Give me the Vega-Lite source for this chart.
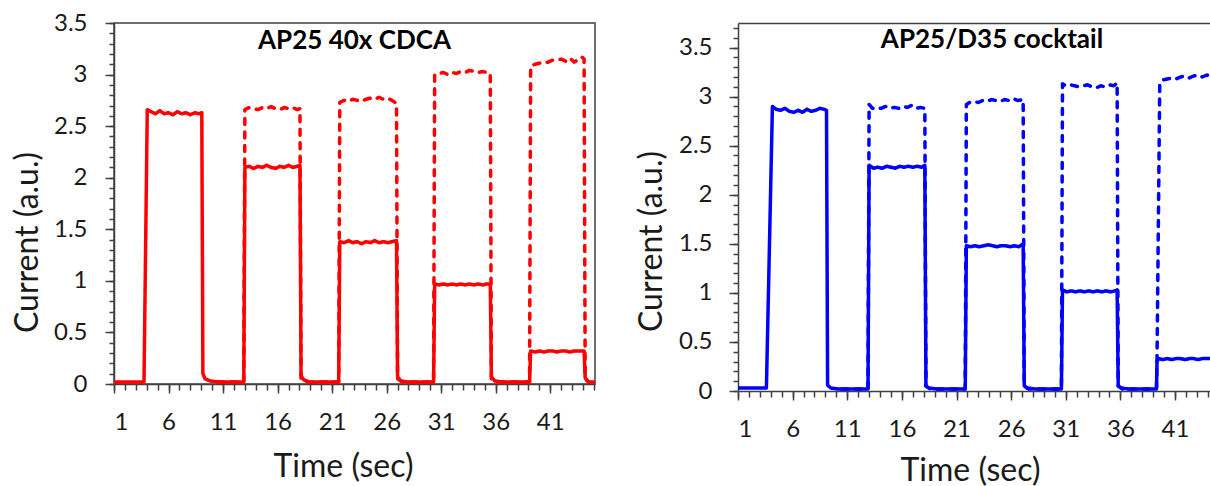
{
  "$schema": "https://vega.github.io/schema/vega-lite/v6.json",
  "padding": {"left": 10, "top": 10, "right": 0, "bottom": 5},
  "background": "white",
  "spacing": 35,
  "config": {
    "font": "Lato",
    "axis": {"grid": false, "domainColor": "#404040", "tickColor": "#404040", "domainWidth": 1.5, "tickWidth": 1.5,
      "labelColor": "#1a1a1a", "titleColor": "#1a1a1a", "labelFontSize": 24, "titleFontSize": 32,
      "titleFontWeight": "normal", "labelFont": "Lato", "titleFont": "Lato"}
  },
  "datasets": {
    "left": [
      {"s":"solid","t":1,"v":0.02},{"s":"solid","t":3.75,"v":0.02},{"s":"solid","t":4.05,"v":2.66},{"s":"solid","t":4.4,"v":2.64},{"s":"solid","t":4.8,"v":2.62},{"s":"solid","t":5.2,"v":2.65},{"s":"solid","t":5.6,"v":2.62},{"s":"solid","t":6.0,"v":2.63},{"s":"solid","t":6.4,"v":2.61},{"s":"solid","t":6.8,"v":2.64},{"s":"solid","t":7.2,"v":2.62},{"s":"solid","t":7.6,"v":2.63},{"s":"solid","t":8.0,"v":2.61},{"s":"solid","t":8.4,"v":2.63},{"s":"solid","t":8.8,"v":2.62},{"s":"solid","t":9.05,"v":2.63},{"s":"solid","t":9.15,"v":0.1},{"s":"solid","t":9.35,"v":0.05},{"s":"solid","t":9.8,"v":0.03},{"s":"solid","t":10.5,"v":0.02},{"s":"solid","t":12.9,"v":0.02},
      {"s":"solid","t":13.0,"v":2.1},{"s":"solid","t":13.4,"v":2.11},{"s":"solid","t":13.8,"v":2.09},{"s":"solid","t":14.2,"v":2.11},{"s":"solid","t":14.6,"v":2.1},{"s":"solid","t":15.0,"v":2.12},{"s":"solid","t":15.4,"v":2.1},{"s":"solid","t":15.8,"v":2.09},{"s":"solid","t":16.2,"v":2.11},{"s":"solid","t":16.6,"v":2.1},{"s":"solid","t":17.0,"v":2.12},{"s":"solid","t":17.4,"v":2.1},{"s":"solid","t":17.8,"v":2.11},{"s":"solid","t":18.05,"v":2.12},{"s":"solid","t":18.15,"v":0.08},{"s":"solid","t":18.4,"v":0.04},{"s":"solid","t":18.9,"v":0.02},{"s":"solid","t":21.6,"v":0.02},
      {"s":"solid","t":21.7,"v":1.38},{"s":"solid","t":22.1,"v":1.37},{"s":"solid","t":22.5,"v":1.39},{"s":"solid","t":22.9,"v":1.37},{"s":"solid","t":23.3,"v":1.38},{"s":"solid","t":23.7,"v":1.36},{"s":"solid","t":24.1,"v":1.38},{"s":"solid","t":24.5,"v":1.37},{"s":"solid","t":24.9,"v":1.39},{"s":"solid","t":25.3,"v":1.37},{"s":"solid","t":25.7,"v":1.38},{"s":"solid","t":26.1,"v":1.37},{"s":"solid","t":26.5,"v":1.38},{"s":"solid","t":26.9,"v":1.39},{"s":"solid","t":27.0,"v":0.07},{"s":"solid","t":27.3,"v":0.03},{"s":"solid","t":27.9,"v":0.02},{"s":"solid","t":30.3,"v":0.02},
      {"s":"solid","t":30.4,"v":0.97},{"s":"solid","t":30.8,"v":0.96},{"s":"solid","t":31.2,"v":0.97},{"s":"solid","t":31.6,"v":0.96},{"s":"solid","t":32.0,"v":0.97},{"s":"solid","t":32.4,"v":0.96},{"s":"solid","t":32.8,"v":0.97},{"s":"solid","t":33.2,"v":0.96},{"s":"solid","t":33.6,"v":0.97},{"s":"solid","t":34.0,"v":0.96},{"s":"solid","t":34.4,"v":0.97},{"s":"solid","t":34.8,"v":0.96},{"s":"solid","t":35.2,"v":0.97},{"s":"solid","t":35.5,"v":0.97},{"s":"solid","t":35.6,"v":0.07},{"s":"solid","t":35.9,"v":0.03},{"s":"solid","t":36.5,"v":0.02},{"s":"solid","t":39.1,"v":0.02},
      {"s":"solid","t":39.2,"v":0.32},{"s":"solid","t":39.6,"v":0.31},{"s":"solid","t":40.0,"v":0.32},{"s":"solid","t":40.4,"v":0.31},{"s":"solid","t":40.8,"v":0.32},{"s":"solid","t":41.2,"v":0.32},{"s":"solid","t":41.6,"v":0.31},{"s":"solid","t":42.0,"v":0.32},{"s":"solid","t":42.4,"v":0.32},{"s":"solid","t":42.8,"v":0.31},{"s":"solid","t":43.2,"v":0.32},{"s":"solid","t":43.6,"v":0.32},{"s":"solid","t":44.1,"v":0.32},{"s":"solid","t":44.2,"v":0.06},{"s":"solid","t":44.5,"v":0.02},{"s":"solid","t":45.2,"v":0.02},
      {"s":"dashed","t":10.5,"v":0.02},{"s":"dashed","t":12.9,"v":0.02},{"s":"dashed","t":13.0,"v":2.66},{"s":"dashed","t":13.4,"v":2.68},{"s":"dashed","t":13.8,"v":2.67},{"s":"dashed","t":14.2,"v":2.66},{"s":"dashed","t":14.6,"v":2.68},{"s":"dashed","t":15.0,"v":2.67},{"s":"dashed","t":15.4,"v":2.69},{"s":"dashed","t":15.8,"v":2.67},{"s":"dashed","t":16.2,"v":2.66},{"s":"dashed","t":16.6,"v":2.68},{"s":"dashed","t":17.0,"v":2.67},{"s":"dashed","t":17.4,"v":2.68},{"s":"dashed","t":17.8,"v":2.66},{"s":"dashed","t":18.05,"v":2.67},{"s":"dashed","t":18.15,"v":0.05},{"s":"dashed","t":18.5,"v":0.02},{"s":"dashed","t":21.6,"v":0.02},
      {"s":"dashed","t":21.7,"v":2.73},{"s":"dashed","t":22.1,"v":2.75},{"s":"dashed","t":22.5,"v":2.74},{"s":"dashed","t":22.9,"v":2.76},{"s":"dashed","t":23.3,"v":2.75},{"s":"dashed","t":23.7,"v":2.74},{"s":"dashed","t":24.1,"v":2.76},{"s":"dashed","t":24.5,"v":2.77},{"s":"dashed","t":24.9,"v":2.76},{"s":"dashed","t":25.3,"v":2.78},{"s":"dashed","t":25.7,"v":2.76},{"s":"dashed","t":26.1,"v":2.77},{"s":"dashed","t":26.5,"v":2.75},{"s":"dashed","t":26.9,"v":2.72},{"s":"dashed","t":27.0,"v":0.05},{"s":"dashed","t":27.4,"v":0.02},{"s":"dashed","t":30.3,"v":0.02},
      {"s":"dashed","t":30.4,"v":3.0},{"s":"dashed","t":30.8,"v":3.01},{"s":"dashed","t":31.2,"v":3.02},{"s":"dashed","t":31.6,"v":3.0},{"s":"dashed","t":32.0,"v":3.02},{"s":"dashed","t":32.4,"v":3.01},{"s":"dashed","t":32.8,"v":3.03},{"s":"dashed","t":33.2,"v":3.02},{"s":"dashed","t":33.6,"v":3.04},{"s":"dashed","t":34.0,"v":3.03},{"s":"dashed","t":34.4,"v":3.02},{"s":"dashed","t":34.8,"v":3.03},{"s":"dashed","t":35.2,"v":3.02},{"s":"dashed","t":35.5,"v":3.01},{"s":"dashed","t":35.6,"v":0.05},{"s":"dashed","t":36.0,"v":0.02},{"s":"dashed","t":39.1,"v":0.02},
      {"s":"dashed","t":39.2,"v":3.08},{"s":"dashed","t":39.6,"v":3.1},{"s":"dashed","t":40.0,"v":3.11},{"s":"dashed","t":40.4,"v":3.12},{"s":"dashed","t":40.8,"v":3.12},{"s":"dashed","t":41.2,"v":3.14},{"s":"dashed","t":41.6,"v":3.14},{"s":"dashed","t":42.0,"v":3.15},{"s":"dashed","t":42.4,"v":3.13},{"s":"dashed","t":42.8,"v":3.16},{"s":"dashed","t":43.2,"v":3.12},{"s":"dashed","t":43.6,"v":3.15},{"s":"dashed","t":43.9,"v":3.17},{"s":"dashed","t":44.1,"v":3.15},{"s":"dashed","t":44.2,"v":0.05},{"s":"dashed","t":44.5,"v":0.02}
    ],
    "right": [
      {"s":"solid","t":1,"v":0.03},{"s":"solid","t":3.6,"v":0.03},{"s":"solid","t":4.15,"v":2.9},{"s":"solid","t":4.5,"v":2.87},{"s":"solid","t":4.9,"v":2.86},{"s":"solid","t":5.3,"v":2.88},{"s":"solid","t":5.7,"v":2.85},{"s":"solid","t":6.1,"v":2.84},{"s":"solid","t":6.5,"v":2.86},{"s":"solid","t":6.9,"v":2.84},{"s":"solid","t":7.3,"v":2.87},{"s":"solid","t":7.7,"v":2.85},{"s":"solid","t":8.1,"v":2.86},{"s":"solid","t":8.5,"v":2.88},{"s":"solid","t":8.9,"v":2.87},{"s":"solid","t":9.1,"v":2.86},{"s":"solid","t":9.2,"v":0.06},{"s":"solid","t":9.5,"v":0.03},{"s":"solid","t":10.2,"v":0.02},{"s":"solid","t":12.9,"v":0.02},
      {"s":"solid","t":13.0,"v":2.3},{"s":"solid","t":13.4,"v":2.27},{"s":"solid","t":13.8,"v":2.28},{"s":"solid","t":14.2,"v":2.27},{"s":"solid","t":14.6,"v":2.29},{"s":"solid","t":15.0,"v":2.28},{"s":"solid","t":15.4,"v":2.27},{"s":"solid","t":15.8,"v":2.29},{"s":"solid","t":16.2,"v":2.28},{"s":"solid","t":16.6,"v":2.29},{"s":"solid","t":17.0,"v":2.28},{"s":"solid","t":17.4,"v":2.29},{"s":"solid","t":17.8,"v":2.28},{"s":"solid","t":18.1,"v":2.3},{"s":"solid","t":18.2,"v":0.05},{"s":"solid","t":18.5,"v":0.03},{"s":"solid","t":19.2,"v":0.02},{"s":"solid","t":21.8,"v":0.02},
      {"s":"solid","t":21.9,"v":1.48},{"s":"solid","t":22.3,"v":1.47},{"s":"solid","t":22.7,"v":1.48},{"s":"solid","t":23.1,"v":1.47},{"s":"solid","t":23.5,"v":1.48},{"s":"solid","t":23.9,"v":1.49},{"s":"solid","t":24.3,"v":1.48},{"s":"solid","t":24.7,"v":1.47},{"s":"solid","t":25.1,"v":1.48},{"s":"solid","t":25.5,"v":1.48},{"s":"solid","t":25.9,"v":1.47},{"s":"solid","t":26.3,"v":1.48},{"s":"solid","t":26.7,"v":1.47},{"s":"solid","t":27.1,"v":1.5},{"s":"solid","t":27.2,"v":0.05},{"s":"solid","t":27.5,"v":0.03},{"s":"solid","t":28.2,"v":0.02},{"s":"solid","t":30.6,"v":0.02},
      {"s":"solid","t":30.7,"v":1.03},{"s":"solid","t":31.1,"v":1.01},{"s":"solid","t":31.5,"v":1.02},{"s":"solid","t":31.9,"v":1.01},{"s":"solid","t":32.3,"v":1.02},{"s":"solid","t":32.7,"v":1.01},{"s":"solid","t":33.1,"v":1.02},{"s":"solid","t":33.5,"v":1.01},{"s":"solid","t":33.9,"v":1.02},{"s":"solid","t":34.3,"v":1.01},{"s":"solid","t":34.7,"v":1.02},{"s":"solid","t":35.1,"v":1.01},{"s":"solid","t":35.5,"v":1.02},{"s":"solid","t":35.7,"v":1.03},{"s":"solid","t":35.8,"v":0.05},{"s":"solid","t":36.1,"v":0.03},{"s":"solid","t":36.8,"v":0.02},{"s":"solid","t":39.3,"v":0.02},
      {"s":"solid","t":39.35,"v":0.3},{"s":"solid","t":39.5,"v":0.33},{"s":"solid","t":39.9,"v":0.32},{"s":"solid","t":40.3,"v":0.33},{"s":"solid","t":40.7,"v":0.32},{"s":"solid","t":41.1,"v":0.33},{"s":"solid","t":41.5,"v":0.33},{"s":"solid","t":41.9,"v":0.32},{"s":"solid","t":42.3,"v":0.33},{"s":"solid","t":42.7,"v":0.33},{"s":"solid","t":43.1,"v":0.32},{"s":"solid","t":43.5,"v":0.33},{"s":"solid","t":43.9,"v":0.33},{"s":"solid","t":44.3,"v":0.33},
      {"s":"dashed","t":10.5,"v":0.02},{"s":"dashed","t":12.9,"v":0.02},{"s":"dashed","t":13.0,"v":2.92},{"s":"dashed","t":13.3,"v":2.88},{"s":"dashed","t":13.7,"v":2.89},{"s":"dashed","t":14.1,"v":2.88},{"s":"dashed","t":14.5,"v":2.9},{"s":"dashed","t":14.9,"v":2.88},{"s":"dashed","t":15.3,"v":2.89},{"s":"dashed","t":15.7,"v":2.88},{"s":"dashed","t":16.1,"v":2.9},{"s":"dashed","t":16.5,"v":2.89},{"s":"dashed","t":16.9,"v":2.91},{"s":"dashed","t":17.3,"v":2.88},{"s":"dashed","t":17.7,"v":2.89},{"s":"dashed","t":18.1,"v":2.88},{"s":"dashed","t":18.2,"v":0.05},{"s":"dashed","t":18.6,"v":0.02},{"s":"dashed","t":21.8,"v":0.02},
      {"s":"dashed","t":21.9,"v":2.92},{"s":"dashed","t":22.2,"v":2.94},{"s":"dashed","t":22.6,"v":2.95},{"s":"dashed","t":23.0,"v":2.94},{"s":"dashed","t":23.4,"v":2.96},{"s":"dashed","t":23.8,"v":2.95},{"s":"dashed","t":24.2,"v":2.97},{"s":"dashed","t":24.6,"v":2.96},{"s":"dashed","t":25.0,"v":2.95},{"s":"dashed","t":25.4,"v":2.97},{"s":"dashed","t":25.8,"v":2.96},{"s":"dashed","t":26.2,"v":2.98},{"s":"dashed","t":26.6,"v":2.96},{"s":"dashed","t":27.1,"v":2.97},{"s":"dashed","t":27.2,"v":0.05},{"s":"dashed","t":27.6,"v":0.02},{"s":"dashed","t":30.6,"v":0.02},
      {"s":"dashed","t":30.7,"v":3.13},{"s":"dashed","t":31.0,"v":3.11},{"s":"dashed","t":31.4,"v":3.12},{"s":"dashed","t":31.8,"v":3.11},{"s":"dashed","t":32.2,"v":3.1},{"s":"dashed","t":32.6,"v":3.11},{"s":"dashed","t":33.0,"v":3.12},{"s":"dashed","t":33.4,"v":3.1},{"s":"dashed","t":33.8,"v":3.09},{"s":"dashed","t":34.2,"v":3.11},{"s":"dashed","t":34.6,"v":3.1},{"s":"dashed","t":35.0,"v":3.12},{"s":"dashed","t":35.4,"v":3.11},{"s":"dashed","t":35.7,"v":3.14},{"s":"dashed","t":35.8,"v":0.05},{"s":"dashed","t":36.2,"v":0.02},{"s":"dashed","t":39.3,"v":0.02},
      {"s":"dashed","t":39.35,"v":0.3},{"s":"dashed","t":39.6,"v":3.13},{"s":"dashed","t":39.9,"v":3.17},{"s":"dashed","t":40.3,"v":3.18},{"s":"dashed","t":40.7,"v":3.19},{"s":"dashed","t":41.1,"v":3.18},{"s":"dashed","t":41.5,"v":3.2},{"s":"dashed","t":41.9,"v":3.21},{"s":"dashed","t":42.3,"v":3.19},{"s":"dashed","t":42.7,"v":3.21},{"s":"dashed","t":43.1,"v":3.22},{"s":"dashed","t":43.5,"v":3.2},{"s":"dashed","t":43.9,"v":3.22},{"s":"dashed","t":44.3,"v":3.21}
    ]
  },
  "hconcat": [
    {
      "width": 481,
      "height": 361,
      "view": {"stroke": "#404040", "strokeWidth": 1.5},
      "title": {"text": "AP25 40x CDCA", "fontSize": 26, "fontWeight": "bold", "font": "Lato", "color": "#000000", "anchor": "middle", "frame": "group", "baseline": "alphabetic", "offset": -64},
      "data": {"name": "left"},
      "layer": [
        {
          "mark": {"type": "line", "clip": true, "strokeWidth": 3.5, "color": "#ff0000", "strokeCap": "round", "strokeJoin": "round"},
          "encoding": {
            "x": {"field": "t", "type": "quantitative", "scale": {"domain": [1, 45.1], "nice": false, "zero": false},
              "axis": {"orient": "bottom", "values": [1, 6, 11, 16, 21, 26, 31, 36, 41], "tickSize": 9, "labelPadding": 17, "labelFontSize": 24, "title": "Time (sec)", "titleX": 229, "titleY": 82, "titleBaseline": "middle"}},
            "y": {"field": "v", "type": "quantitative", "scale": {"domain": [0, 3.5], "nice": false},
              "axis": {"orient": "left", "values": [0, 0.5, 1, 1.5, 2, 2.5, 3, 3.5], "format": "~g", "tickSize": 9, "labelPadding": 18, "labelFontSize": 24, "title": "Current (a.u.)", "titleX": -87, "titleY": 219, "titleBaseline": "middle"}},
            "strokeDash": {"field": "s", "type": "nominal", "scale": {"domain": ["solid", "dashed"], "range": [[1, 0], [6, 7.5]]}, "legend": null}
          }
        },
        {
          "mark": {"type": "point", "opacity": 0},
          "encoding": {
            "x": {"field": "t", "type": "quantitative", "axis": {"orient": "bottom", "values": [1,2,3,4,5,6,7,8,9,10,11,12,13,14,15,16,17,18,19,20,21,22,23,24,25,26,27,28,29,30,31,32,33,34,35,36,37,38,39,40,41,42,43,44,45], "labels": false, "domain": false, "tickSize": 6, "title": null}},
            "y": {"field": "v", "type": "quantitative", "axis": {"orient": "left", "values": [0,0.1,0.2,0.3,0.4,0.5,0.6,0.7,0.8,0.9,1,1.1,1.2,1.3,1.4,1.5,1.6,1.7,1.8,1.9,2,2.1,2.2,2.3,2.4,2.5,2.6,2.7,2.8,2.9,3,3.1,3.2,3.3,3.4,3.5], "labels": false, "domain": false, "tickSize": 5, "title": null}}
          }
        }
      ],
      "resolve": {"axis": {"x": "independent", "y": "independent"}}
    },
    {
      "width": 472,
      "height": 368,
      "view": {"stroke": null},
      "title": {"text": "AP25/D35 cocktail", "fontSize": 26, "fontWeight": "bold", "font": "Lato", "color": "#000000", "anchor": "middle", "frame": "group", "baseline": "alphabetic", "offset": -51, "dx": 18},
      "data": {"name": "right"},
      "layer": [
        {
          "mark": {"type": "line", "clip": true, "strokeWidth": 3.5, "color": "#0000ff", "strokeCap": "round", "strokeJoin": "round"},
          "encoding": {
            "x": {"field": "t", "type": "quantitative", "scale": {"domain": [1, 44.2], "nice": false, "zero": false},
              "axis": {"orient": "bottom", "values": [1, 6, 11, 16, 21, 26, 31, 36, 41], "tickSize": 9, "labelPadding": 17, "labelFontSize": 24, "title": "Time (sec)", "titleX": 232, "titleY": 79, "titleBaseline": "middle"}},
            "y": {"field": "v", "type": "quantitative", "scale": {"domain": [0, 3.75], "nice": false},
              "axis": {"orient": "left", "values": [0, 0.5, 1, 1.5, 2, 2.5, 3, 3.5], "format": "~g", "tickSize": 9, "labelPadding": 17, "labelFontSize": 24, "title": "Current (a.u.)", "titleX": -87, "titleY": 218, "titleBaseline": "middle"}},
            "strokeDash": {"field": "s", "type": "nominal", "scale": {"domain": ["solid", "dashed"], "range": [[1, 0], [6, 7.5]]}, "legend": null}
          }
        },
        {
          "mark": {"type": "point", "opacity": 0},
          "encoding": {
            "x": {"field": "t", "type": "quantitative", "axis": {"orient": "bottom", "values": [1,2,3,4,5,6,7,8,9,10,11,12,13,14,15,16,17,18,19,20,21,22,23,24,25,26,27,28,29,30,31,32,33,34,35,36,37,38,39,40,41,42,43,44], "labels": false, "domain": false, "tickSize": 6, "title": null}},
            "y": {"field": "v", "type": "quantitative", "axis": {"orient": "left", "values": [0,0.1,0.2,0.3,0.4,0.5,0.6,0.7,0.8,0.9,1,1.1,1.2,1.3,1.4,1.5,1.6,1.7,1.8,1.9,2,2.1,2.2,2.3,2.4,2.5,2.6,2.7,2.8,2.9,3,3.1,3.2,3.3,3.4,3.5,3.6,3.7], "labels": false, "domain": false, "tickSize": 5, "title": null}}
          }
        },
        {
          "mark": {"type": "point", "opacity": 0},
          "encoding": {
            "x": {"field": "t", "type": "quantitative", "axis": {"orient": "top", "labels": false, "ticks": false, "domain": true, "title": null}},
            "y": {"field": "v", "type": "quantitative", "axis": null}
          }
        }
      ],
      "resolve": {"axis": {"x": "independent", "y": "independent"}}
    }
  ]
}
